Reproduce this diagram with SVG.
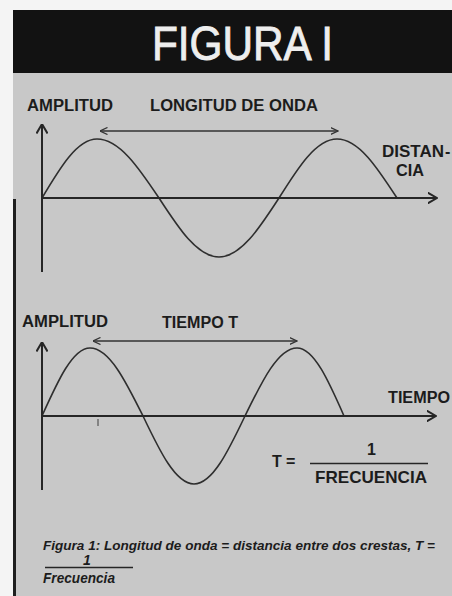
<svg xmlns="http://www.w3.org/2000/svg" width="452" height="596" viewBox="0 0 452 596">
<style>
.lbl{font-family:"Liberation Sans",Arial,sans-serif;font-weight:bold;fill:#1c1c1c}
.cap{font-family:"Liberation Sans",Arial,sans-serif;font-weight:bold;font-style:italic;fill:#1c1c1c}
.axis{fill:none;stroke:#262626;stroke-width:2}
.wave{fill:none;stroke:#2e2e2e;stroke-width:1.6}
.span{fill:none;stroke:#333;stroke-width:1.3}
.rule{stroke:#262626;stroke-width:1.6}
</style>
<defs>
<marker id="axhead" viewBox="0 0 10 12" refX="9.5" refY="6" markerWidth="10" markerHeight="12" orient="auto-start-reverse" markerUnits="userSpaceOnUse">
<path d="M0,0.5 L9.5,6 L0,11.5" fill="none" stroke="#262626" stroke-width="2"/>
</marker>
<marker id="sphead" viewBox="0 0 8 8" refX="7.5" refY="4" markerWidth="8" markerHeight="8" orient="auto-start-reverse" markerUnits="userSpaceOnUse">
<path d="M0,0.5 L7.5,4 L0,7.5" fill="none" stroke="#333" stroke-width="1.3"/>
</marker>
</defs>
<rect width="452" height="596" fill="#f4f4f4"/>
<g id="panel">
<rect x="13" y="70" width="439" height="526" fill="#c8c8c8"/>
<rect x="13" y="199" width="3" height="397" fill="#1e1e1e"/>
</g>
<g id="header">
<rect x="13" y="10" width="439" height="63" fill="#121212"/>
<text x="152" y="60" font-family="'Liberation Sans',Arial,sans-serif" font-size="48" fill="#eeeeee" stroke="#eeeeee" stroke-width="0.9" textLength="181" lengthAdjust="spacingAndGlyphs">FIGURA I</text>
</g>
<g id="top-graph">
<text class="lbl" x="27" y="111" font-size="16" textLength="86" lengthAdjust="spacingAndGlyphs">AMPLITUD</text>
<text class="lbl" x="150" y="111" font-size="16" textLength="168" lengthAdjust="spacingAndGlyphs">LONGITUD DE ONDA</text>
<text class="lbl" x="382" y="157" font-size="16" textLength="62" lengthAdjust="spacingAndGlyphs">DISTAN</text>
<text class="lbl" x="445" y="157" font-size="16">-</text>
<text class="lbl" x="396" y="176" font-size="16" textLength="28" lengthAdjust="spacingAndGlyphs">CIA</text>
<path class="wave" d="M42,198 C59.9,167.8 77.1,139 97,139 C119.4,139 138.8,167.8 159,198 C178.6,228.2 197.3,257 219,257 C240.7,257 259.4,228.2 279,198 C297.9,167.8 316,139 337,139 C358.7,139 377.4,167.8 397,198"/>
</g>
<g id="bottom-graph">
<text class="lbl" x="22" y="327" font-size="16" textLength="86" lengthAdjust="spacingAndGlyphs">AMPLITUD</text>
<text class="lbl" x="162" y="328" font-size="16" textLength="76" lengthAdjust="spacingAndGlyphs">TIEMPO T</text>
<text class="lbl" x="388" y="403" font-size="16" textLength="62" lengthAdjust="spacingAndGlyphs">TIEMPO</text>
<path class="wave" d="M42,416 C57.7,381.2 72.6,348 90,348 C109.2,348 125.7,381.2 143,416 C159.6,450.8 175.5,484 194,484 C212.5,484 228.4,450.8 245,416 C262,381.2 278.2,348 297,348 C314,348 328.7,381.2 344,416"/>
<line x1="98" y1="419" x2="98" y2="426" stroke="#555" stroke-width="1.2"/>
<text class="lbl" x="272" y="467" font-size="16">T</text>
<text class="lbl" x="286" y="467" font-size="16">=</text>
<text class="lbl" x="367" y="455" font-size="16">1</text>
<line class="rule" x1="310" y1="463.5" x2="428" y2="463.5"/>
<text class="lbl" x="315" y="483" font-size="16.5" textLength="112" lengthAdjust="spacingAndGlyphs">FRECUENCIA</text>
</g>
<g id="connectors">
<path class="axis" d="M42,272 L42,124" marker-end="url(#axhead)"/>
<path class="axis" d="M42,198 L437,198" marker-end="url(#axhead)"/>
<path class="span" d="M100,131 L338,131" marker-start="url(#sphead)" marker-end="url(#sphead)"/>
<path class="axis" d="M42,490 L42,342" marker-end="url(#axhead)"/>
<path class="axis" d="M42,416 L436,416" marker-end="url(#axhead)"/>
<path class="span" d="M93,341 L297,341" marker-start="url(#sphead)" marker-end="url(#sphead)"/>
</g>
<g id="caption">
<text class="cap" x="43" y="550" font-size="13.5" textLength="392" lengthAdjust="spacingAndGlyphs">Figura 1: Longitud de onda = distancia entre dos crestas, T =</text>
<text class="cap" x="83" y="565" font-size="14">1</text>
<line class="rule" x1="45" y1="567.5" x2="133" y2="567.5" stroke-width="1.2"/>
<text class="cap" x="43" y="583" font-size="14" textLength="72" lengthAdjust="spacingAndGlyphs">Frecuencia</text>
</g>
</svg>
